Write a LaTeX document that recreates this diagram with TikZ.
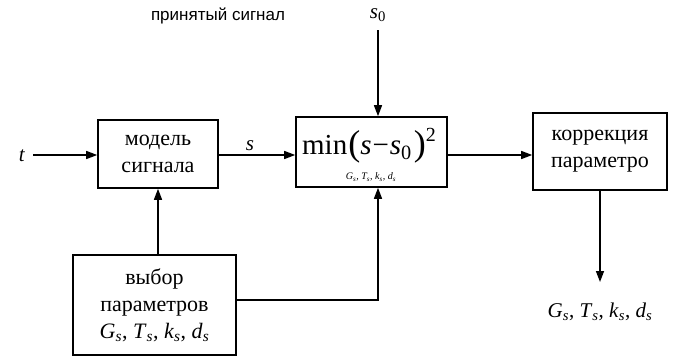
\documentclass[tikz,border=0pt]{standalone}
\usepackage{fontspec}
\setmainfont{Liberation Serif}
\newfontfamily\labfont{Liberation Sans}
\usetikzlibrary{arrows.meta}
\newcommand{\vsub}[1]{\textit{#1}\textsubscript{\textit{s}}}
\begin{document}
\begin{tikzpicture}[x=1pt,y=-1pt,
  blk/.style={draw, line width=1.6pt, align=center, inner sep=0pt,
    font=\fontsize{22}{27}\selectfont},
  arr/.style={line width=1.4pt, -{Triangle[length=11pt,width=8pt]}},
  lab/.style={font=\fontsize{21}{24}\selectfont, inner sep=0pt}]
\useasboundingbox (0,0) rectangle (678,359);
\fill[white] (0,0) rectangle (678,359);
\node[blk, minimum width=120pt, minimum height=68pt] (model) at (158,154) {модель\\сигнала};
\node[blk, minimum width=151pt, minimum height=70pt] (minb) at (371.5,152) {};
\node[inner sep=0pt, font=\fontsize{29}{29}\selectfont] (expr) at (369,146)
  {min\kern1pt\raisebox{-1pt}{\fontsize{36}{36}\selectfont(}\textit{s}\kern1pt−\kern1pt\textit{s}\textsubscript{0}\kern2pt\raisebox{-1pt}{\fontsize{36}{36}\selectfont)}\raisebox{13pt}{\fontsize{20}{20}\selectfont 2}};
\node[inner sep=0pt, font=\fontsize{10}{10}\selectfont\itshape] (sub) at (371,177) {G\textsubscript{s}, T\textsubscript{s}, k\textsubscript{s}, d\textsubscript{s}};
\node[blk, minimum width=134pt, minimum height=77pt] (corr) at (600,151.5) {коррекция\\параметро};
\node[blk, minimum width=163pt, minimum height=100pt] (vyb) at (154.5,305) {выбор\\параметров\\\vsub{G}, \vsub{T}, \vsub{k}, \vsub{d}};
\node[lab] (t) at (22,156) {\textit{t}};
\coordinate (tstart) at (33,155);
\node[lab] (s) at (250,146) {\textit{s}};
\node[lab] (s0) at (378,15) {\textit{s}\textsubscript{0}};
\coordinate (s0start) at (378,30);
\node[inner sep=0pt, font=\labfont\fontsize{17}{17}\selectfont] (prin) at (218,16) {принятый сигнал};
\node[lab] (out) at (600,312) {\vsub{G}, \vsub{T}, \vsub{k}, \vsub{d}};
\coordinate (outend) at (600,282);
\draw[arr] (tstart) -- (model.west |- tstart);
\draw[arr] (model.east |- 0,155) -- (minb.west |- 0,155);
\draw[arr] (s0start) -- (minb.north -| s0start);
\draw[arr] (minb.east |- 0,155) -- (corr.west |- 0,155);
\draw[arr] (corr.south) -- (outend);
\draw[arr] (vyb.north -| model) -- (model.south);
\draw[arr] (vyb.east |- 0,300) -| (minb.south -| s0start);
\end{tikzpicture}
\end{document}
